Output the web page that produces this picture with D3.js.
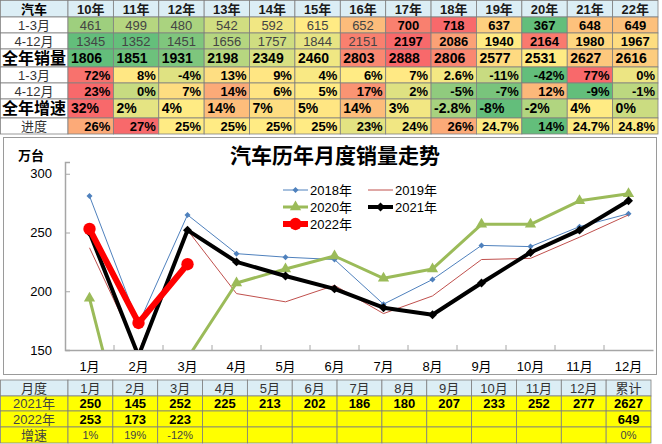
<!DOCTYPE html>
<html>
<head>
<meta charset="utf-8">
<script src="https://cdn.jsdelivr.net/npm/d3@7"></script>
<style>
  body { margin: 0; background: #fff; }
  svg { display: block; }
  text { font-family: "Liberation Sans", "Noto Sans CJK SC", sans-serif; }
</style>
</head>
<body>
<svg id="chart" width="662" height="444"></svg>
<script>
// ---- top table data
const years = ['10年', '11年', '12年', '13年', '14年', '15年', '16年', '17年', '18年', '19年', '20年', '21年', '22年'];
const q1Sales = [461, 499, 480, 542, 592, 615, 652, 700, 718, 637, 367, 648, 649];
const q4Sales = [1345, 1352, 1451, 1656, 1757, 1844, 2151, 2197, 2086, 1940, 2164, 1980, 1967];
const yearSales = [1806, 1851, 1931, 2198, 2349, 2460, 2803, 2888, 2806, 2577, 2531, 2627, 2616];
const q1Growth = ['72%', '8%', '-4%', '13%', '9%', '4%', '6%', '7%', '2.6%', '-11%', '-42%', '77%', '0%'];
const q4Growth = ['23%', '0%', '7%', '14%', '6%', '5%', '17%', '2%', '-5%', '-7%', '12%', '-9%', '-1%'];
const yearGrowth = ['32%', '2%', '4%', '14%', '7%', '5%', '14%', '3%', '-2.8%', '-8%', '-2%', '4%', '0%'];
const progress = ['26%', '27%', '25%', '25%', '25%', '25%', '23%', '24%', '26%', '24.7%', '14%', '24.7%', '24.8%'];

// ---- chart data (万台)
const months = ['1月', '2月', '3月', '4月', '5月', '6月', '7月', '8月', '9月', '10月', '11月', '12月'];
const sales2018 = [281, 172, 265, 232, 229, 227, 189, 210, 239, 238, 255, 266];
const sales2019 = [237, 148, 252, 198, 191, 205, 181, 196, 227, 228, 246, 265];
const sales2020 = [194, 31, 143, 207, 219, 230, 211, 219, 257, 257, 277, 283];
const sales2021 = [250, 145, 252, 225, 213, 202, 186, 180, 207, 233, 252, 277];
const sales2022 = [253, 173, 223];

// ---- bottom table data
const bottomCols = months.concat(['累计']);
const total2021 = 2627;
const total2022 = 649;
const growth2022 = ['1%', '19%', '-12%'];
const growthTotal = '0%';

const svg = d3.select('#chart');
const gridColor = '#7f7f7f';
const headBlue = '#DCEEF5';

// excel style 3-colour scale: min green, median yellow, max red
function heat(vals) {
  const nums = vals.map(v => parseFloat(v));
  const ext = d3.extent(nums);
  const s = d3.scaleLinear()
    .domain([ext[0], d3.median(nums), ext[1]])
    .range(['#63BE7B', '#FFEB84', '#F8696B']);
  return v => s(parseFloat(v));
}

// ================= top table =================
const colX = d3.scaleBand().domain(years).range([68, 658]);
const topTable = svg.append('g');

const topRows = [
  { label: '1-3月', vals: q1Sales, align: 'middle', h: 16, bold: i => i >= 7 },
  { label: '4-12月', vals: q4Sales, align: 'middle', h: 16, bold: i => i >= 7 },
  { label: '全年销量', vals: yearSales, align: 'start', h: 18, big: true, bold: () => true },
  { label: '1-3月', vals: q1Growth, align: 'end', h: 16, bold: () => true },
  { label: '4-12月', vals: q4Growth, align: 'end', h: 16, bold: () => true },
  { label: '全年增速', vals: yearGrowth, align: 'start', h: 19, big: true, bold: () => true },
  { label: '进度', vals: progress, align: 'end', h: 16, bold: () => true }
];
let yy = 17;
topRows.forEach(r => { r.y = yy; yy += r.h; });

// header row
topTable.append('rect').attr('x', 0.5).attr('y', 0.5).attr('width', 67.5).attr('height', 16.5)
  .attr('fill', headBlue).attr('stroke', gridColor).attr('stroke-width', 0.8);
topTable.append('text').attr('x', 34).attr('y', 9).attr('dy', '0.35em')
  .attr('text-anchor', 'middle').style('font-size', '13px').style('font-weight', 'bold').text('汽车');
topTable.selectAll('.hcell').data(years).enter().append('rect')
  .attr('x', d => colX(d)).attr('y', 0.5).attr('width', colX.bandwidth()).attr('height', 16.5)
  .attr('fill', headBlue).attr('stroke', gridColor).attr('stroke-width', 0.8);
topTable.selectAll('.htext').data(years).enter().append('text')
  .attr('x', d => colX(d) + colX.bandwidth() / 2).attr('y', 9).attr('dy', '0.35em')
  .attr('text-anchor', 'middle').style('font-size', '13px').style('font-weight', 'bold')
  .attr('fill', '#1a1a1a').text(d => d);

topRows.forEach(r => {
  const color = heat(r.vals);
  const g = topTable.append('g');
  g.append('rect').attr('x', 0.5).attr('y', r.y).attr('width', 67.5).attr('height', r.h)
    .attr('fill', '#fff').attr('stroke', gridColor).attr('stroke-width', 0.8);
  g.append('text').attr('x', 34).attr('y', r.y + r.h / 2).attr('dy', '0.35em')
    .attr('text-anchor', 'middle')
    .style('font-size', r.big ? '16px' : '13px')
    .style('font-weight', r.big ? 'bold' : 'normal')
    .attr('fill', r.big ? '#000' : '#333')
    .text(r.label);
  g.selectAll('rect.c').data(r.vals).enter().append('rect')
    .attr('x', (d, i) => colX(years[i])).attr('y', r.y)
    .attr('width', colX.bandwidth()).attr('height', r.h)
    .attr('fill', d => color(d)).attr('stroke', gridColor).attr('stroke-width', 0.8);
  g.selectAll('text.c').data(r.vals).enter().append('text')
    .attr('x', (d, i) => {
      const x0 = colX(years[i]);
      if (r.align === 'start') return x0 + 3;
      if (r.align === 'end') return x0 + colX.bandwidth() - 3;
      return x0 + colX.bandwidth() / 2;
    })
    .attr('y', r.y + r.h / 2).attr('dy', '0.35em')
    .attr('text-anchor', r.align)
    .style('font-size', r.big ? '14px' : '13px')
    .style('font-weight', (d, i) => r.bold(i) ? 'bold' : 'normal')
    .attr('fill', (d, i) => r.bold(i) ? '#000' : '#444')
    .text(d => d);
});

// ================= chart =================
const chart = svg.append('g');
chart.append('rect').attr('x', 3.5).attr('y', 137.5).attr('width', 653).attr('height', 237)
  .attr('fill', '#fff').attr('stroke', '#9a9a9a').attr('stroke-width', 1);

chart.append('text').attr('x', 335).attr('y', 156).attr('dy', '0.35em')
  .attr('text-anchor', 'middle').style('font-size', '21px').style('font-weight', 'bold')
  .text('汽车历年月度销量走势');
chart.append('text').attr('x', 18).attr('y', 155).attr('dy', '0.35em')
  .style('font-size', '13px').style('font-weight', 'bold').text('万台');

const x = d3.scaleBand().domain(months).range([65, 653]);
const y = d3.scaleLinear().domain([150, 310]).range([350, 162]);
const yTicks = [150, 200, 250, 300];

// y axis
const yAxis = chart.append('g').attr('transform', 'translate(65,0)')
  .call(d3.axisRight(y).tickValues(yTicks).tickSize(5).tickFormat(''));
yAxis.select('.domain').attr('stroke', '#a6a6a6').attr('stroke-width', 1.5);
yAxis.selectAll('.tick line').attr('stroke', '#a6a6a6');
chart.selectAll('.ylab').data(yTicks).enter().append('text')
  .attr('x', 52).attr('y', d => y(d)).attr('dy', '0.35em').attr('text-anchor', 'end')
  .style('font-size', '13px').text(d => d);

// x axis
const xAxis = chart.append('g').attr('transform', 'translate(0,350)')
  .call(d3.axisBottom(x).tickSize(0).tickFormat(''));
xAxis.select('.domain').attr('stroke', '#a6a6a6').attr('stroke-width', 1.5);
xAxis.selectAll('.tick').remove();
chart.selectAll('.xtick').data(months.slice(1)).enter().append('line')
  .attr('x1', d => x(d)).attr('x2', d => x(d)).attr('y1', 350).attr('y2', 345)
  .attr('stroke', '#a6a6a6');
chart.selectAll('.xlab').data(months).enter().append('text')
  .attr('x', d => x(d) + x.bandwidth() / 2).attr('y', 366).attr('dy', '0.35em')
  .attr('text-anchor', 'middle').style('font-size', '13px').text(d => d);

// series
const series = [
  { name: '2018年', values: sales2018, color: '#4F81BD', width: 1, marker: 'diamond', msize: 18 },
  { name: '2019年', values: sales2019, color: '#C0504D', width: 1, marker: null },
  { name: '2020年', values: sales2020, color: '#9BBB59', width: 3, marker: 'triangle', msize: 55 },
  { name: '2021年', values: sales2021, color: '#000000', width: 4, marker: 'diamond', msize: 40 },
  { name: '2022年', values: sales2022, color: '#FF0000', width: 6, marker: 'circle', msize: 120 }
];

function symbolPath(s) {
  if (s.marker === 'triangle') return d3.symbol(d3.symbolTriangle, s.msize)();
  if (s.marker === 'circle') return d3.symbol(d3.symbolCircle, s.msize)();
  return d3.symbol(d3.symbolSquare, s.msize)();
}
function symbolRot(s) { return s.marker === 'diamond' ? ' rotate(45)' : ''; }

svg.append('clipPath').attr('id', 'plotclip')
  .append('rect').attr('x', 60).attr('y', 155).attr('width', 600).attr('height', 195);

const plot = chart.append('g').attr('clip-path', 'url(#plotclip)');
const cx = (d, i) => x(months[i]) + x.bandwidth() / 2;
const line = d3.line().x(cx).y(d => y(d));

series.forEach(s => {
  plot.append('path').datum(s.values).attr('d', line)
    .attr('fill', 'none').attr('stroke', s.color).attr('stroke-width', s.width)
    .attr('stroke-linejoin', 'round');
  if (s.marker) {
    plot.selectAll(null).data(s.values).enter().append('path')
      .attr('d', symbolPath(s))
      .attr('transform', (d, i) => `translate(${cx(d, i)},${y(d)})${symbolRot(s)}`)
      .attr('fill', s.color);
  }
});

// legend
const legend = chart.append('g');
series.forEach((s, i) => {
  const lx = 283 + (i % 2) * 85;
  const ly = 190 + Math.floor(i / 2) * 17;
  legend.append('line').attr('x1', lx).attr('x2', lx + 25).attr('y1', ly).attr('y2', ly)
    .attr('stroke', s.color).attr('stroke-width', s.width);
  if (s.marker) {
    legend.append('path').attr('d', symbolPath(s))
      .attr('transform', `translate(${lx + 12.5},${ly})${symbolRot(s)}`)
      .attr('fill', s.color);
  }
  legend.append('text').attr('x', lx + 27).attr('y', ly).attr('dy', '0.35em')
    .style('font-size', '13px').text(s.name);
});

// ================= bottom table =================
const bx = d3.scaleBand().domain(bottomCols).range([68, 651]);
const bottomTable = svg.append('g');
const bRows = [
  { label: '2021年', vals: sales2021.concat([total2021]), bold: true, y: 396, h: 15 },
  { label: '2022年', vals: sales2022, extra: total2022, bold: true, y: 411, h: 16 },
  { label: '增速', vals: growth2022, extra: growthTotal, bold: false, y: 427, h: 16 }
];

// header
bottomTable.append('rect').attr('x', 0.5).attr('y', 380).attr('width', 67.5).attr('height', 16)
  .attr('fill', headBlue).attr('stroke', gridColor).attr('stroke-width', 0.8);
bottomTable.append('text').attr('x', 34).attr('y', 388).attr('dy', '0.35em').attr('text-anchor', 'middle')
  .style('font-size', '13px').attr('fill', '#333').text('月度');
bottomTable.selectAll('.bh').data(bottomCols).enter().append('rect')
  .attr('x', d => bx(d)).attr('y', 380).attr('width', bx.bandwidth()).attr('height', 16)
  .attr('fill', headBlue).attr('stroke', gridColor).attr('stroke-width', 0.8);
bottomTable.selectAll('.bht').data(bottomCols).enter().append('text')
  .attr('x', d => bx(d) + bx.bandwidth() / 2).attr('y', 388).attr('dy', '0.35em')
  .attr('text-anchor', 'middle').style('font-size', '13px').attr('fill', '#333').text(d => d);

bRows.forEach(r => {
  const g = bottomTable.append('g');
  g.append('rect').attr('x', 0.5).attr('y', r.y).attr('width', 67.5).attr('height', r.h)
    .attr('fill', '#FFFF00').attr('stroke', gridColor).attr('stroke-width', 0.8);
  g.append('text').attr('x', 34).attr('y', r.y + r.h / 2).attr('dy', '0.35em').attr('text-anchor', 'middle')
    .style('font-size', '13px').attr('fill', '#444').text(r.label);
  g.selectAll('rect.c').data(bottomCols).enter().append('rect')
    .attr('x', d => bx(d)).attr('y', r.y).attr('width', bx.bandwidth()).attr('height', r.h)
    .attr('fill', '#FFFF00').attr('stroke', gridColor).attr('stroke-width', 0.8);
  const cells = r.vals.map((v, i) => ({ col: bottomCols[i], v }));
  if (r.extra !== undefined) cells.push({ col: '累计', v: r.extra });
  g.selectAll('text.c').data(cells).enter().append('text')
    .attr('x', d => bx(d.col) + bx.bandwidth() / 2).attr('y', r.y + r.h / 2).attr('dy', '0.35em')
    .attr('text-anchor', 'middle')
    .style('font-size', r.bold ? '13px' : '11px')
    .style('font-weight', r.bold ? 'bold' : 'normal')
    .attr('fill', r.bold ? '#000' : '#444')
    .text(d => d.v);
});
</script>
</body>
</html>
